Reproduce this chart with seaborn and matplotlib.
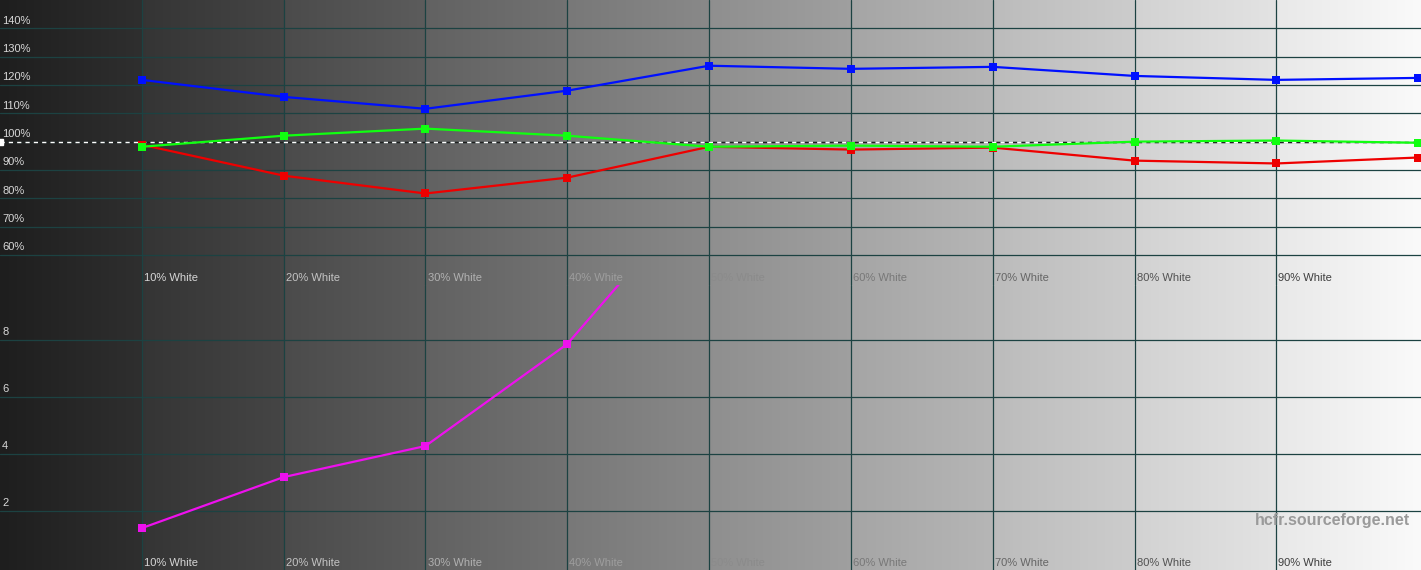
import numpy as np
import seaborn as sns
import matplotlib.pyplot as plt
from matplotlib.transforms import blended_transform_factory

# grey levels measured (percent white)
levels = [10, 20, 30, 40, 50, 60, 70, 80, 90, 100]
level_labels = ["10% White", "20% White", "30% White", "40% White", "50% White",
                "60% White", "70% White", "80% White", "90% White"]

# RGB balance (%)
red = [98.9, 88.0, 81.7, 87.3, 98.2, 97.2, 97.9, 93.3, 92.3, 94.4]
green = [98.2, 102.1, 104.6, 102.1, 98.2, 98.6, 98.2, 100.0, 100.4, 99.6]
blue = [121.8, 115.8, 111.6, 118.0, 126.8, 125.7, 126.4, 123.2, 121.8, 122.5]

# delta E (only first points are inside the plot)
de_levels = [10, 20, 30, 40, 50]
delta_e = [1.40, 3.19, 4.28, 7.86, 13.6]

rgb_ticks = [60, 70, 80, 90, 100, 110, 120, 130, 140]
rgb_tick_labels = ["60%", "70%", "80%", "90%", "100%", "110%", "120%", "130%", "140%"]
de_ticks = [2, 4, 6, 8]
de_tick_labels = ["2", "4", "6", "8"]

sns.set_theme(style="white")
plt.rcParams['font.family'] = ['Liberation Sans', 'DejaVu Sans']

GRID = '#1c4242'


def background():
    xs = np.linspace(0, 100.2, 1421)
    idx = np.minimum((xs // 10).astype(int), 9)
    frac = (xs - idx * 10) / 10.0
    val = (30 + 22.5 * idx + 17 * frac) / 255.0
    val = np.clip(val, 0, 1)
    img = np.tile(val, (2, 1))
    return np.dstack([img, img, img])


def setup(ax, ylim, ticks, labels):
    ax.set_xlim(0, 100.2)
    ax.set_ylim(*ylim)
    ax.imshow(background(), extent=[0, 100.2, ylim[0], ylim[1]], aspect='auto',
              zorder=0, interpolation='nearest')
    for t in ticks:
        ax.axhline(t, color=GRID, lw=0.9, zorder=1)
    for x in levels[:-1]:
        ax.axvline(x, color=GRID, lw=0.9, zorder=1)
    trans = blended_transform_factory(ax.transAxes, ax.transData)
    for t, lab in zip(ticks, labels):
        ax.text(0.0015, t + (ylim[1] - ylim[0]) * 0.009, lab, transform=trans,
                fontsize=8, color='#d8d8d8', va='bottom', ha='left', zorder=5)
    trans2 = blended_transform_factory(ax.transData, ax.transAxes)
    for x, lab in zip(levels[:-1], level_labels):
        c = 0.92 - 0.75 * x / 100
        ax.text(x + 0.15, 0.008, lab, transform=trans2, fontsize=8,
                color=(c, c, c), va='bottom', ha='left', zorder=5)
    ax.set_xticks([])
    ax.set_yticks([])
    for s in ax.spines.values():
        s.set_visible(False)


fig = plt.figure(figsize=(14.21, 5.70), dpi=100)
ax1 = fig.add_axes([0, 0.5, 1, 0.5])
ax2 = fig.add_axes([0, 0, 1, 0.5])

setup(ax1, (49.4, 150), rgb_ticks, rgb_tick_labels)
setup(ax2, (-0.07, 9.93), de_ticks, de_tick_labels)

ax1.plot([0, 100], [100, 100], color='white', lw=1, ls=(0, (3, 3)),
         gapcolor='#202020', zorder=2, marker='s', markevery=[0], markersize=4)

style = dict(marker='s', markersize=6, markeredgewidth=0, linewidth=1.6, zorder=3)
sns.lineplot(x=levels, y=blue, ax=ax1, color='#0010ff', **style)
sns.lineplot(x=levels, y=red, ax=ax1, color='#ee0000', **style)
sns.lineplot(x=levels, y=green, ax=ax1, color='#10ff10', **style)

sns.lineplot(x=de_levels, y=delta_e, ax=ax2, color='#ee10ee', **style)

for ax in (ax1, ax2):
    ax.set_xticks([])
    ax.set_yticks([])
    ax.set_xlabel('')
    ax.set_ylabel('')

ax2.text(0.992, 0.172, "hcfr.sourceforge.net", transform=ax2.transAxes,
         fontsize=11.5, fontweight='bold', color='#9a9a9a', ha='right', va='center', zorder=6)

fig.savefig('out.png', dpi=100)
